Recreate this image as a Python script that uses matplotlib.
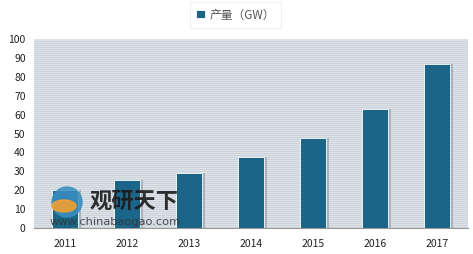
import numpy as np
import matplotlib.pyplot as plt
from matplotlib.patches import Ellipse

plt.rcParams['font.family'] = ['Noto Sans CJK SC', 'DejaVu Sans']

# data
years = ['2011', '2012', '2013', '2014', '2015', '2016', '2017']
output_gw = [20, 25.5, 29.3, 37.5, 47.5, 63, 87]
legend_label = '产量（GW）'

bar_color = '#1b6688'
bg_color = '#dce2e8'

fig = plt.figure(figsize=(4.73, 2.54), dpi=100)
ax = fig.add_axes([34 / 473, 26 / 254, 434 / 473, 189 / 254])

x = np.arange(len(years))
ax.set_xlim(-0.5, len(years) - 0.5)
ax.set_ylim(0, 100)

# striped plot background
ax.set_facecolor(bg_color)
for yy in np.arange(0.5, 100, 1.06):
    ax.axhline(yy, color='#c6cdd5', linewidth=0.5, zorder=0)

# bar shadows then bars
ax.bar(x + 0.05, output_gw, width=0.42, color='#8a9096', alpha=0.55, zorder=2)
ax.bar(x, output_gw, width=0.42, color=bar_color, edgecolor='white',
       linewidth=0.6, zorder=3, label=legend_label)

ax.set_xticks(x)
ax.set_xticklabels(years)
ax.set_yticks(range(0, 101, 10))
ax.tick_params(axis='both', length=0, labelsize=7.5, colors='#222222')
ax.tick_params(axis='x', pad=8)
ax.tick_params(axis='y', pad=6)
for side in ['top', 'right', 'left']:
    ax.spines[side].set_visible(False)
ax.spines['bottom'].set_color('#999999')

leg = fig.legend(loc='upper left', bbox_to_anchor=(190 / 473, 1 - 2 / 254), fontsize=8.5,
                 frameon=True, handlelength=0.7, handleheight=0.7,
                 handletextpad=0.4, borderpad=0.55, borderaxespad=0,
                 fancybox=False, shadow=False, labelcolor='#555555')
leg.get_frame().set_edgecolor('#eeeeee')
leg.get_frame().set_linewidth(0.8)

# watermark
fig.patches.append(Ellipse((67 / 473, 1 - 202 / 254), 30 / 473, 30 / 254,
                           transform=fig.transFigure, color='#3a8fc0', alpha=0.85, zorder=5))
fig.patches.append(Ellipse((64 / 473, 1 - 206 / 254), 24 / 473, 12 / 254,
                           transform=fig.transFigure, color='#f0a030', alpha=0.9, zorder=6))
fig.text(90 / 473, 1 - 201 / 254, '观研天下', fontsize=16, fontweight='bold',
         color='#1a1a1a', va='center', alpha=0.9, zorder=7)
fig.text(50 / 473, 1 - 222 / 254, 'www.chinabaogao.com', fontsize=8.2,
         color='#333333', va='center', alpha=0.85, family='DejaVu Sans', zorder=7)

plt.savefig('out.png', dpi=100)
